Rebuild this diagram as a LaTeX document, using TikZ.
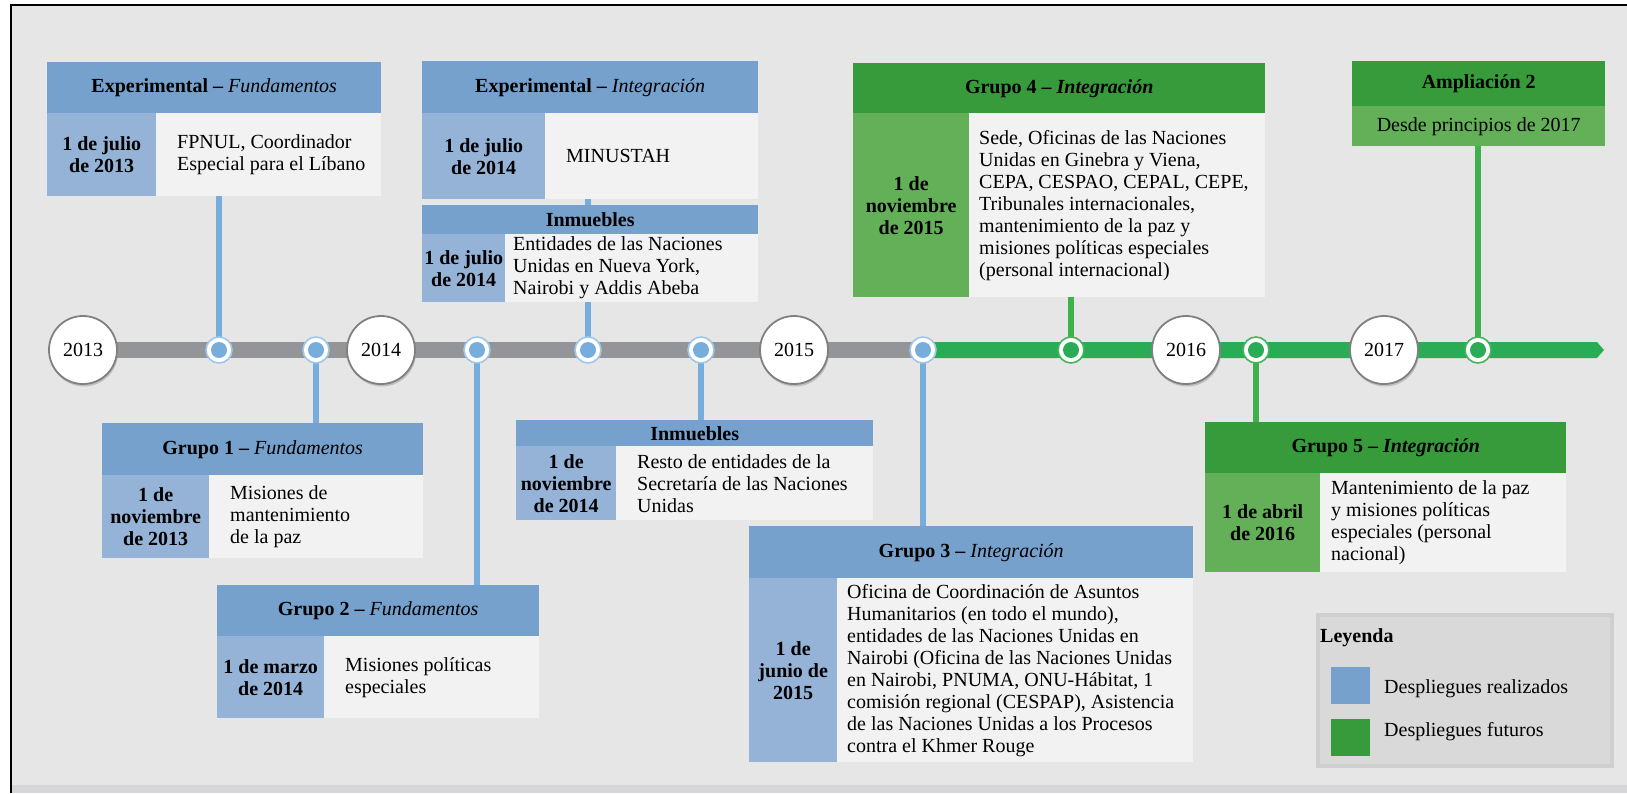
\documentclass[tikz,border=0pt]{standalone}
\usepackage{fontspec}
\setmainfont{Liberation Serif}
\usetikzlibrary{shadows}
\definecolor{bgc}{HTML}{E6E6E6}
\definecolor{bandc}{HTML}{D6D6D8}
\definecolor{hblue}{HTML}{76A1CC}
\definecolor{dblue}{HTML}{95B3D7}
\definecolor{bodyc}{HTML}{F2F2F2}
\definecolor{cblue}{HTML}{77ADDD}
\definecolor{ringblue}{HTML}{9FC7EC}
\definecolor{gbar}{HTML}{939598}
\definecolor{hgreen}{HTML}{379A3B}
\definecolor{dgreen}{HTML}{63B058}
\definecolor{ggreen}{HTML}{29AC55}
\definecolor{cgreen}{HTML}{3EB14D}
\definecolor{ringgreen}{HTML}{45B55E}
\definecolor{legfill}{HTML}{D9D9D9}
\definecolor{legdraw}{HTML}{CFCFCF}
\newcommand\fs{\fontsize{20}{22}\selectfont}
\pgfdeclarelayer{back}
\pgfdeclarelayer{mid}
\pgfsetlayers{back,mid,main}
\begin{document}
\begin{tikzpicture}[x=1pt,y=-1pt,
  every node/.style={font=\fs, inner sep=0pt},
  hdr/.style={anchor=north west, font=\fs\bfseries},
  hb/.style={hdr, fill=hblue},
  hg/.style={hdr, fill=hgreen},
  cellb/.style={anchor=north west, fill=dblue, align=center, font=\fs\bfseries},
  cellg/.style={anchor=north west, fill=dgreen, align=center, font=\fs\bfseries},
  bodybox/.style={anchor=north west, fill=bodyc},
  txt/.style={anchor=west, align=left},
  yr/.style={circle, minimum size=68pt, fill=white, draw=black!50, line width=1.8pt,
    drop shadow={shadow xshift=1pt, shadow yshift=-2.5pt, fill=black!40, opacity=0.5}},
  dotb/.style={circle, minimum size=26pt, fill=white, draw=ringblue, line width=1.6pt,
    path picture={\fill[cblue] (path picture bounding box.center) circle (8pt);}},
  dotg/.style={circle, minimum size=26pt, fill=white, draw=ringgreen, line width=1.6pt,
    path picture={\fill[ggreen] (path picture bounding box.center) circle (8pt);}},
  conb/.style={draw=cblue, line width=6pt},
  cong/.style={draw=cgreen, line width=6pt},
  legsq/.style={anchor=north west, minimum width=39pt, minimum height=37pt}
]
\useasboundingbox (0,0) rectangle (1627,793);
\begin{pgfonlayer}{back}
  \fill[white] (0,0) rectangle (1627,793);
  \fill[bgc] (11,5) rectangle (1627,793);
  \fill[bandc] (11,785) rectangle (1627,793);
  \draw[black, line width=1.8pt] (11,793) -- (11,5) -- (1627,5);
\end{pgfonlayer}

% year circles
\node[yr] (y13) at (83,350) {2013};
\node[yr] (y14) at (381,350) {2014};
\node[yr] (y15) at (794,350) {2015};
\node[yr] (y16) at (1186,350) {2016};
\node[yr] (y17) at (1384,350) {2017};

% milestone points
\node[dotb] (pA) at (219,350) {};
\node[dotb] (pD) at (316,350) {};
\node[dotb] (pE) at (477,350) {};
\node[dotb] (pC) at (588,350) {};
\node[dotb] (pF) at (701,350) {};
\node[dotb] (pG) at (923,350) {};
\node[dotg] (pH) at (1071,350) {};
\node[dotg] (pJ) at (1256,350) {};
\node[dotg] (pI) at (1478,350) {};
\coordinate (tip) at (1604,350);

% Box A
\node[hb, minimum width=334pt, minimum height=51pt] (hA) at (47,62) {Experimental – {\mdseries\itshape Fundamentos}};
\node[cellb, minimum width=109pt, minimum height=83pt] (cA) at (47,113) {1 de julio\\de 2013};
\node[bodybox, minimum width=225pt, minimum height=83pt] (bA) at (156,113) {};
\node[txt] (tA) at ([xshift=21pt]bA.west) {FPNUL, Coordinador\\Especial para el Líbano};

% Box B
\node[hb, minimum width=336pt, minimum height=52pt] (hB) at (422,61) {Experimental – {\mdseries\itshape Integración}};
\node[cellb, minimum width=123pt, minimum height=86pt] (cB) at (422,113) {1 de julio\\de 2014};
\node[bodybox, minimum width=213pt, minimum height=86pt] (bB) at (545,113) {};
\node[txt] (tB) at ([xshift=21pt]bB.west) {MINUSTAH};

% Box C
\node[hb, minimum width=336pt, minimum height=29pt] (hC) at (422,205) {Inmuebles};
\node[cellb, minimum width=83pt, minimum height=68pt] (cC) at (422,234) {1 de julio\\de 2014};
\node[bodybox, minimum width=253pt, minimum height=68pt] (bC) at (505,234) {};
\node[txt] (tC) at ([xshift=8pt]bC.west) {Entidades de las Naciones\\Unidas en Nueva York,\\Nairobi y Addis Abeba};

% Box D
\node[hb, minimum width=321pt, minimum height=52pt] (hD) at (102,423) {Grupo 1 – {\mdseries\itshape Fundamentos}};
\node[cellb, minimum width=107pt, minimum height=83pt] (cD) at (102,475) {1 de\\noviembre\\de 2013};
\node[bodybox, minimum width=214pt, minimum height=83pt] (bD) at (209,475) {};
\node[txt] (tD) at ([xshift=21pt]bD.west) {Misiones de\\mantenimiento\\de la paz};

% Box E
\node[hb, minimum width=322pt, minimum height=51pt] (hE) at (217,585) {Grupo 2 – {\mdseries\itshape Fundamentos}};
\node[cellb, minimum width=107pt, minimum height=82pt] (cE) at (217,636) {1 de marzo\\de 2014};
\node[bodybox, minimum width=215pt, minimum height=82pt] (bE) at (324,636) {};
\node[txt] (tE) at ([xshift=21pt]bE.west) {Misiones políticas\\especiales};

% Box F
\node[hb, minimum width=357pt, minimum height=26pt] (hF) at (516,420) {Inmuebles};
\node[cellb, minimum width=100pt, minimum height=74pt] (cF) at (516,446) {1 de\\noviembre\\de 2014};
\node[bodybox, minimum width=257pt, minimum height=74pt] (bF) at (616,446) {};
\node[txt] (tF) at ([xshift=21pt]bF.west) {Resto de entidades de la\\Secretaría de las Naciones\\Unidas};

% Box G
\node[hb, minimum width=444pt, minimum height=52pt] (hG) at (749,526) {Grupo 3 – {\mdseries\itshape Integración}};
\node[cellb, minimum width=88pt, minimum height=184pt] (cG) at (749,578) {1 de\\junio de\\2015};
\node[bodybox, minimum width=356pt, minimum height=184pt] (bG) at (837,578) {};
\node[txt] (tG) at ([xshift=10pt]bG.west) {Oficina de Coordinación de Asuntos\\Humanitarios (en todo el mundo),\\entidades de las Naciones Unidas en\\Nairobi (Oficina de las Naciones Unidas\\en Nairobi, PNUMA, ONU-Hábitat, 1\\comisión regional (CESPAP), Asistencia\\de las Naciones Unidas a los Procesos\\contra el Khmer Rouge};

% Box H
\node[hg, minimum width=412pt, minimum height=50pt] (hH) at (853,63) {Grupo 4 – {\itshape Integración}};
\node[cellg, minimum width=116pt, minimum height=184pt] (cH) at (853,113) {1 de\\noviembre\\de 2015};
\node[bodybox, minimum width=296pt, minimum height=184pt] (bH) at (969,113) {};
\node[txt] (tH) at ([xshift=10pt]bH.west) {Sede, Oficinas de las Naciones\\Unidas en Ginebra y Viena,\\CEPA, CESPAO, CEPAL, CEPE,\\Tribunales internacionales,\\mantenimiento de la paz y\\misiones políticas especiales\\(personal internacional)};

% Box I
\node[hg, minimum width=253pt, minimum height=45pt] (hI) at (1352,61) {Ampliación 2};
\node[anchor=north west, fill=dgreen, minimum width=253pt, minimum height=40pt] (bI) at (1352,106) {Desde principios de 2017};

% Box J
\node[hg, minimum width=361pt, minimum height=51pt] (hJ) at (1205,422) {Grupo 5 – {\itshape Integración}};
\node[cellg, minimum width=115pt, minimum height=99pt] (cJ) at (1205,473) {1 de abril\\de 2016};
\node[bodybox, minimum width=246pt, minimum height=99pt] (bJ) at (1320,473) {};
\node[txt] (tJ) at ([xshift=11pt]bJ.west) {Mantenimiento de la paz\\y misiones políticas\\especiales (personal\\nacional)};

% Legend
\node[anchor=north west, fill=legfill, draw=legdraw, line width=4pt, minimum width=294pt, minimum height=151pt] (leg) at (1316,613) {};
\node[anchor=west, font=\fs\bfseries] (legt) at (1320,638) {Leyenda};
\node[legsq, fill=hblue] (lb) at (1331,667) {};
\node[legsq, fill=hgreen] (lg) at (1331,719) {};
\node[anchor=west] (lbt) at (1384,689) {Despliegues realizados};
\node[anchor=west] (lgt) at (1384,732) {Despliegues futuros};

\begin{pgfonlayer}{mid}
  \draw[gbar, line width=16pt] (y13.center) -- (pG.center);
  \fill[ggreen] ([yshift=8pt]pG.center) -- ([xshift=-7pt,yshift=8pt]tip) -- (tip)
     -- ([xshift=-7pt,yshift=-8pt]tip) -- ([yshift=-8pt]pG.center) -- cycle;
  \draw[conb] (pA.center) -- (pA.center |- bA.south);
  \draw[conb] (pC.center) -- (pC.center |- bB.south);
  \draw[conb] (pD.center) -- (pD.center |- hD.north);
  \draw[conb] (pE.center) -- (pE.center |- hE.north);
  \draw[conb] (pF.center) -- (pF.center |- hF.north);
  \draw[conb] (pG.center) -- (pG.center |- hG.north);
  \draw[cong] (pH.center) -- (pH.center |- bH.south);
  \draw[cong] (pI.center) -- (pI.center |- bI.south);
  \draw[cong] (pJ.center) -- (pJ.center |- hJ.north);
\end{pgfonlayer}
\end{tikzpicture}
\end{document}
